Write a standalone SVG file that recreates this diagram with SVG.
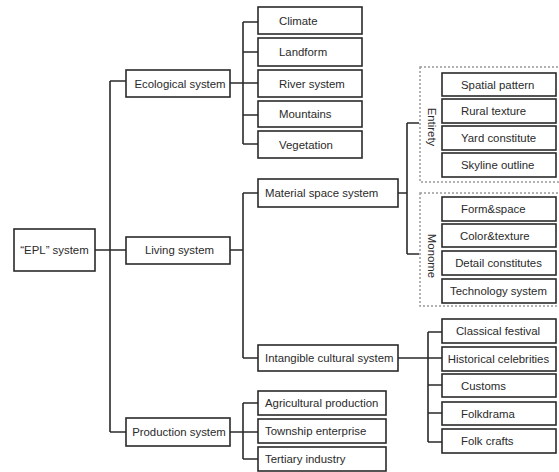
<svg xmlns="http://www.w3.org/2000/svg" width="559" height="472" viewBox="0 0 559 472">
<style>
.b{fill:#fff;stroke:#2a2a2a;stroke-width:1.6}
.t{font-family:"Liberation Sans",Arial,sans-serif;font-size:11.4px;fill:#2a2a2a}
.c{text-anchor:middle}
.l{fill:none;stroke:#2a2a2a;stroke-width:1.6}
.d{fill:none;stroke:#999;stroke-width:1.5;stroke-dasharray:2 2}
</style>
<rect width="559" height="472" fill="#fff"/>
<g id="groups">
<rect class="d" x="420" y="67" width="150" height="115"/>
<rect class="d" x="420" y="193" width="150" height="113"/>
<text class="t c" transform="translate(427.5,127) rotate(90)">Entirety</text>
<text class="t c" transform="translate(427.5,256) rotate(90)">Monome</text>
</g>
<g id="connectors">
<path class="l" d="M95 250H126M110 81V432M110 81H126M110 432H126"/>
<path class="l" d="M230 83H258M243 22V144M243 22H258M243 52H258M243 115H258M243 144H258"/>
<path class="l" d="M230 250H243M243 193V358M243 193H258M243 358H258"/>
<path class="l" d="M230 432H258M243 403V459M243 403H258M243 459H258"/>
<path class="l" d="M398 193H407M407 123V254M407 123H419M407 254H419"/>
<path class="l" d="M398 358H442M428 332V442M428 332H442M428 385H442M428 413H442M428 442H442"/>
</g>
<g id="n-epl"><rect class="b" x="14" y="229" width="81" height="42"/><text class="t c" x="54.5" y="254">“EPL” system</text></g>
<g id="n-eco"><rect class="b" x="126" y="70" width="104" height="27"/><text class="t c" x="180" y="87.5">Ecological system</text></g>
<g id="n-living"><rect class="b" x="126" y="237" width="104" height="27"/><text class="t c" x="179.5" y="254">Living system</text></g>
<g id="n-prod"><rect class="b" x="126" y="418" width="104" height="28"/><text class="t c" x="179" y="436">Production system</text></g>
<g id="n-climate"><rect class="b" x="258" y="7" width="104" height="27"/><text class="t" x="279" y="24.5">Climate</text></g>
<g id="n-landform"><rect class="b" x="258" y="38" width="104" height="28"/><text class="t" x="279" y="56">Landform</text></g>
<g id="n-river"><rect class="b" x="258" y="70" width="104" height="27"/><text class="t" x="279" y="87.5">River system</text></g>
<g id="n-mountains"><rect class="b" x="258" y="101" width="104" height="26"/><text class="t" x="279" y="118">Mountains</text></g>
<g id="n-vegetation"><rect class="b" x="258" y="131" width="104" height="27"/><text class="t" x="279" y="148.5">Vegetation</text></g>
<g id="n-material"><rect class="b" x="258" y="179" width="140" height="28"/><text class="t" x="265" y="197">Material space system</text></g>
<g id="n-intangible"><rect class="b" x="258" y="345" width="140" height="26"/><text class="t" x="265" y="362">Intangible cultural system</text></g>
<g id="n-agri"><rect class="b" x="258" y="391" width="128" height="24"/><text class="t" x="265" y="407">Agricultural production</text></g>
<g id="n-township"><rect class="b" x="258" y="419" width="128" height="24"/><text class="t" x="265" y="435">Township enterprise</text></g>
<g id="n-tertiary"><rect class="b" x="258" y="447" width="128" height="24"/><text class="t" x="265" y="463">Tertiary industry</text></g>
<g id="n-spatial"><rect class="b" x="442" y="73" width="114" height="23"/><text class="t" x="461" y="88.5">Spatial pattern</text></g>
<g id="n-rural"><rect class="b" x="442" y="99" width="114" height="24"/><text class="t" x="461" y="115">Rural texture</text></g>
<g id="n-yard"><rect class="b" x="442" y="126" width="114" height="24"/><text class="t" x="461" y="142">Yard constitute</text></g>
<g id="n-skyline"><rect class="b" x="442" y="153" width="114" height="24"/><text class="t" x="461" y="169">Skyline outline</text></g>
<g id="n-form"><rect class="b" x="442" y="197" width="114" height="24"/><text class="t" x="461" y="213">Form&amp;space</text></g>
<g id="n-color"><rect class="b" x="442" y="224" width="114" height="23"/><text class="t" x="460" y="239.5">Color&amp;texture</text></g>
<g id="n-detail"><rect class="b" x="442" y="251" width="114" height="24"/><text class="t c" x="498.5" y="267">Detail constitutes</text></g>
<g id="n-tech"><rect class="b" x="442" y="279" width="114" height="24"/><text class="t c" x="498.5" y="295">Technology system</text></g>
<g id="n-classical"><rect class="b" x="442" y="319" width="114" height="24"/><text class="t c" x="498" y="335">Classical festival</text></g>
<g id="n-historical"><rect class="b" x="442" y="347" width="114" height="24"/><text class="t c" x="498.5" y="363">Historical celebrities</text></g>
<g id="n-customs"><rect class="b" x="442" y="374" width="114" height="23"/><text class="t" x="461" y="389.5">Customs</text></g>
<g id="n-folkdrama"><rect class="b" x="442" y="402" width="114" height="23"/><text class="t" x="461" y="417.5">Folkdrama</text></g>
<g id="n-folkcrafts"><rect class="b" x="442" y="429" width="114" height="24"/><text class="t" x="461" y="445">Folk crafts</text></g>
</svg>
